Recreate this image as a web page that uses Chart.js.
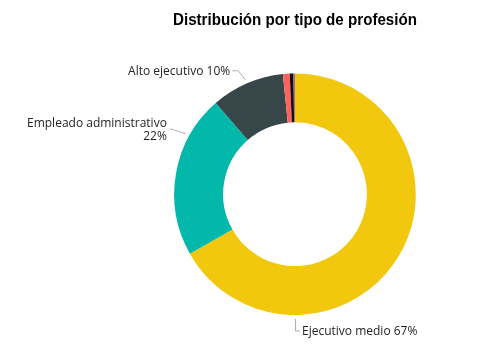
<!DOCTYPE html>
<html>
<head>
<meta charset="utf-8">
<script src="https://cdn.jsdelivr.net/npm/chart.js@4/dist/chart.umd.min.js"></script>
<style>
html,body{margin:0;padding:0;background:#fff;}
#wrap{width:500px;height:357px;position:relative;}
</style>
</head>
<body>
<div id="wrap"><canvas id="c" width="500" height="357"></canvas></div>
<script>
const categories = ["Ejecutivo medio", "Empleado administrativo", "Alto ejecutivo", "Directivo", "Autónomo", "Otros"];
const values = [66.8, 21.8, 9.8, 0.9, 0.5, 0.2];
const colors = ["#F2C80F", "#01B8AA", "#374649", "#FD625E", "#111111", "#A66999"];
const chartTitle = "Distribución por tipo de profesión";

// label layout: index, anchor angle (deg clockwise from top), style
const labelSpecs = [
  {i: 0, angle: 180, kind: "bottom"},
  {i: 1, angle: 299, kind: "leftTwoLine"},
  {i: 2, angle: 336.5, kind: "leftOneLine"}
];

const labelPlugin = {
  id: "outLabels",
  afterDraw(chart) {
    const ctx = chart.ctx;
    const meta = chart.getDatasetMeta(0);
    const arc = meta.data[0];
    const cx = arc.x, cy = arc.y, R = arc.outerRadius;
    const total = values.reduce((a, b) => a + b, 0);
    ctx.save();
    ctx.strokeStyle = "#b0b0b0";
    ctx.lineWidth = 1;
    ctx.fillStyle = "#252423";
    ctx.font = "12px 'Open Sans', sans-serif";
    labelSpecs.forEach(s => {
      const pct = Math.round(values[s.i] / total * 100) + "%";
      const a = s.angle * Math.PI / 180;
      const ax = cx + Math.sin(a) * (R + 4);
      const ay = cy - Math.cos(a) * (R + 4);
      ctx.beginPath();
      if (s.kind === "bottom") {
        ctx.moveTo(ax + 0.5, ay);
        ctx.lineTo(ax + 0.5, ay + 12);
        ctx.lineTo(ax + 5, ay + 12);
        ctx.stroke();
        ctx.textAlign = "left";
        ctx.textBaseline = "middle";
        ctx.fillText(categories[s.i] + " " + pct, ax + 7, ay + 13);
      } else if (s.kind === "leftTwoLine") {
        ctx.moveTo(ax, ay);
        ctx.lineTo(ax - 16, ay - 5);
        ctx.stroke();
        ctx.textAlign = "right";
        ctx.textBaseline = "middle";
        ctx.fillText(categories[s.i], ax - 19, ay - 10);
        ctx.fillText(pct, ax - 19, ay + 3);
      } else {
        ctx.moveTo(ax, ay);
        ctx.lineTo(ax - 7, ay - 9);
        ctx.lineTo(ax - 13, ay - 9);
        ctx.stroke();
        ctx.textAlign = "right";
        ctx.textBaseline = "middle";
        ctx.fillText(categories[s.i] + " " + pct, ax - 15, ay - 8);
      }
    });
    ctx.restore();
  }
};

new Chart(document.getElementById("c"), {
  type: "doughnut",
  data: {
    labels: categories,
    datasets: [{
      data: values,
      backgroundColor: colors,
      borderWidth: 0,
      hoverOffset: 0
    }]
  },
  options: {
    responsive: false,
    animation: false,
    cutout: "59.5%",
    layout: {padding: {top: 5, left: 173, right: 83, bottom: 42}},
    plugins: {
      legend: {display: false},
      tooltip: {enabled: false},
      title: {
        display: true,
        text: chartTitle,
        color: "#000",
        font: {family: "'Liberation Sans', Arial, sans-serif", size: 17, weight: "bold", lineHeight: 1.2},
        padding: {top: 5, bottom: 43}
      }
    }
  },
  plugins: [labelPlugin]
});
</script>
</body>
</html>
